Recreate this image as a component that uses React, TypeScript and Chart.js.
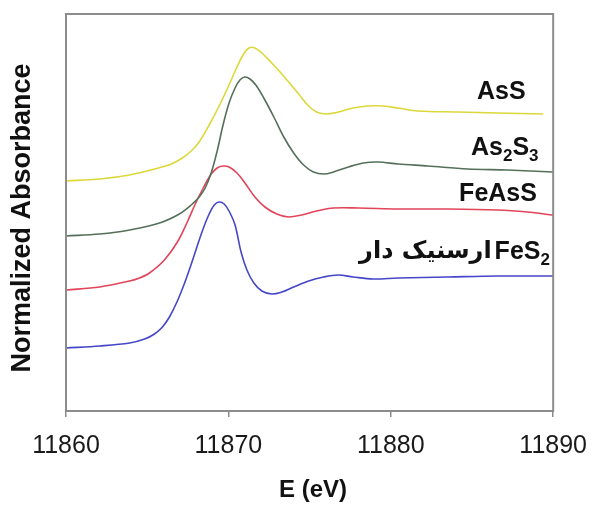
import { useEffect, useRef } from "react";
import { Chart, registerables } from "chart.js";

Chart.register(...registerables);

// ---- data (E in eV, normalized absorbance, offset stacked) ----
const xTicks = [11860, 11870, 11880, 11890];

const energyAsS = [11860.0, 11862.08, 11863.92, 11865.45, 11866.49, 11867.16, 11867.71, 11868.2, 11868.82, 11869.43, 11870.04, 11870.53, 11870.9, 11871.27, 11871.63, 11872.06, 11872.61, 11873.29, 11874.33, 11874.94, 11875.43, 11876.04, 11876.78, 11877.69, 11878.61, 11879.53, 11880.45, 11881.67, 11884.12, 11886.57, 11889.39];
const absAsS = [2.30, 2.32, 2.36, 2.42, 2.47, 2.53, 2.60, 2.69, 2.86, 3.05, 3.26, 3.44, 3.56, 3.63, 3.63, 3.58, 3.49, 3.37, 3.17, 3.05, 2.99, 2.97, 2.99, 3.03, 3.05, 3.05, 3.03, 3.00, 2.99, 2.98, 2.97];

const energyAs2S3 = [11860.0, 11862.08, 11863.92, 11865.76, 11866.98, 11867.71, 11868.2, 11868.57, 11868.94, 11869.31, 11869.67, 11870.04, 11870.41, 11870.71, 11871.02, 11871.33, 11871.69, 11872.18, 11872.8, 11873.41, 11874.02, 11874.63, 11875.24, 11875.86, 11876.47, 11877.39, 11878.31, 11879.22, 11880.45, 11882.29, 11884.74, 11887.18, 11890.0];
const absAs2S3 = [1.75, 1.77, 1.81, 1.88, 1.97, 2.06, 2.14, 2.23, 2.38, 2.60, 2.86, 3.08, 3.23, 3.31, 3.34, 3.32, 3.26, 3.13, 2.94, 2.74, 2.58, 2.46, 2.39, 2.37, 2.39, 2.44, 2.48, 2.49, 2.47, 2.45, 2.42, 2.41, 2.39];

const energyFeAsS = [11860.0, 11862.08, 11863.92, 11864.53, 11865.14, 11866.06, 11866.86, 11867.47, 11867.96, 11868.45, 11868.94, 11869.31, 11869.67, 11870.04, 11870.53, 11871.02, 11871.63, 11872.25, 11872.98, 11873.71, 11874.51, 11875.43, 11876.47, 11878.0, 11880.45, 11883.51, 11886.57, 11888.41, 11890.0];
const absFeAsS = [1.21, 1.24, 1.30, 1.33, 1.38, 1.51, 1.69, 1.89, 2.07, 2.23, 2.37, 2.43, 2.45, 2.44, 2.38, 2.28, 2.14, 2.04, 1.97, 1.94, 1.96, 2.00, 2.03, 2.03, 2.02, 2.02, 2.01, 1.99, 1.96];

const energyFeS2 = [11860.0, 11862.08, 11863.92, 11864.84, 11865.45, 11865.94, 11866.37, 11866.86, 11867.35, 11867.84, 11868.33, 11868.76, 11869.13, 11869.43, 11869.74, 11870.04, 11870.41, 11870.78, 11871.14, 11871.57, 11872.06, 11872.67, 11873.29, 11874.02, 11874.94, 11875.86, 11876.78, 11877.69, 11878.92, 11880.45, 11883.51, 11886.57, 11890.0];
const absFeS2 = [0.63, 0.65, 0.68, 0.72, 0.77, 0.84, 0.94, 1.10, 1.30, 1.53, 1.77, 1.95, 2.06, 2.09, 2.07, 2.00, 1.86, 1.59, 1.41, 1.28, 1.20, 1.17, 1.19, 1.24, 1.30, 1.34, 1.36, 1.34, 1.32, 1.33, 1.34, 1.35, 1.35];

const seriesNames = ["AsS", "As2S3", "FeAsS", "FeS2"];

// ---- styling ----
const COLORS = ["#dcd83a", "#55705a", "#e2445a", "#4646c8"];
const FRAME = "#8c8c8c";
const FONT = "'Liberation Sans', Arial, sans-serif";
const ARABIC_FONT = "'DejaVu Sans', sans-serif";

type Seg = { t: string; sub?: boolean; arabic?: boolean };

// label anchors: right edge (E) and vertical centre (absorbance)
const labelDefs: { segs: Seg[]; e: number; a: number }[] = [
  { segs: [{ t: "AsS" }], e: 11888.3, a: 3.19 },
  { segs: [{ t: "As" }, { t: "2", sub: true }, { t: "S" }, { t: "3", sub: true }], e: 11889.1, a: 2.63 },
  { segs: [{ t: "FeAsS" }], e: 11889.0, a: 2.17 },
  { segs: [{ t: "ارسنیک دار", arabic: true }, { t: "FeS" }, { t: "2", sub: true }], e: 11889.8, a: 1.59 },
];

const zip = (xs: number[], ys: number[]) => xs.map((x, i) => ({ x, y: ys[i] }));

const overlay = {
  id: "overlay",
  afterDraw(chart: any) {
    const { ctx, chartArea: a, scales } = chart;
    ctx.save();
    // frame
    ctx.strokeStyle = FRAME;
    ctx.lineWidth = 2;
    ctx.strokeRect(a.left, a.top, a.right - a.left, a.bottom - a.top);

    // series labels
    const size = 25;
    ctx.fillStyle = "#111";
    ctx.textBaseline = "middle";
    ctx.textAlign = "left";
    const fontFor = (s: Seg) =>
      s.arabic
        ? `bold ${size - 1}px ${ARABIC_FONT}`
        : s.sub
        ? `bold ${Math.round(size * 0.68)}px ${FONT}`
        : `bold ${size}px ${FONT}`;
    for (const L of labelDefs) {
      const right = scales.x.getPixelForValue(L.e);
      const cy = scales.y.getPixelForValue(L.a);
      let total = 0;
      const widths = L.segs.map((s) => {
        ctx.font = fontFor(s);
        const w = ctx.measureText(s.t).width + (s.arabic ? 3 : 0);
        total += w;
        return w;
      });
      let x = right - total;
      L.segs.forEach((s, i) => {
        ctx.font = fontFor(s);
        const y = s.sub ? cy + size * 0.32 : cy;
        ctx.fillText(s.t, x, y);
        x += widths[i];
      });
    }

    // axis titles
    ctx.font = `bold 24px ${FONT}`;
    ctx.textAlign = "center";
    ctx.fillText("E (eV)", 313, 490);
    ctx.save();
    ctx.translate(23, 218);
    ctx.rotate(-Math.PI / 2);
    ctx.font = `bold 27px ${FONT}`;
    ctx.fillText("Normalized Absorbance", 0, 0);
    ctx.restore();

    ctx.restore();
  },
};

export default function App() {
  const ref = useRef<HTMLCanvasElement | null>(null);
  useEffect(() => {
    if (!ref.current) return;
    const sets = [
      zip(energyAsS, absAsS),
      zip(energyAs2S3, absAs2S3),
      zip(energyFeAsS, absFeAsS),
      zip(energyFeS2, absFeS2),
    ];
    const chart = new Chart(ref.current, {
      type: "line",
      data: {
        datasets: sets.map((d, i) => ({
          label: seriesNames[i],
          data: d,
          borderColor: COLORS[i],
          borderWidth: 1.6,
          pointRadius: 0,
          fill: false,
          tension: 0.35,
        })),
      },
      options: {
        animation: false,
        responsive: false,
        events: [],
        layout: { padding: { top: 14, right: 45, left: 0, bottom: 0 } },
        plugins: { legend: { display: false }, tooltip: { enabled: false } },
        scales: {
          x: {
            type: "linear",
            min: xTicks[0],
            max: xTicks[xTicks.length - 1],
            afterBuildTicks: (s: any) => {
              s.ticks = xTicks.map((v) => ({ value: v }));
            },
            afterFit: (s: any) => {
              s.height = 97;
            },
            border: { display: false },
            grid: { drawOnChartArea: false, drawTicks: true, tickLength: 6, color: FRAME, lineWidth: 1.5 },
            ticks: {
              color: "#1a1a1a",
              padding: 14,
              maxRotation: 0,
              font: { family: FONT, size: 25 },
              callback: (v: any) => String(v),
            },
          },
          y: {
            type: "linear",
            min: 0,
            max: 3.97,
            afterFit: (s: any) => {
              s.width = 66;
            },
            border: { display: false },
            grid: { display: false },
            ticks: { display: false },
          },
        },
      },
      plugins: [overlay],
    });
    return () => chart.destroy();
  }, []);
  return (
    <div style={{ position: "fixed", left: 0, top: 0, width: 601, height: 508, background: "#fff" }}>
      <canvas ref={ref} width={601} height={508} style={{ width: 601, height: 508, display: "block" }} />
    </div>
  );
}
